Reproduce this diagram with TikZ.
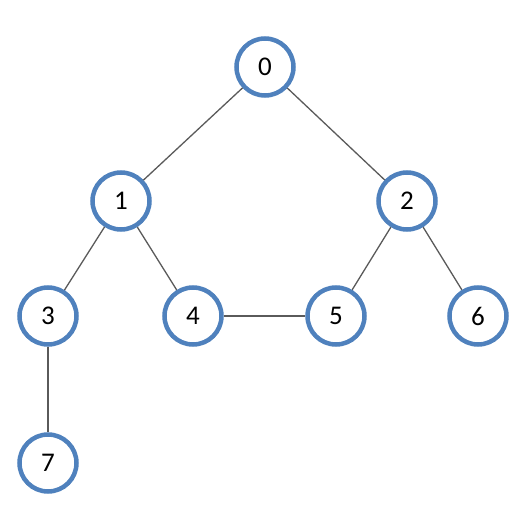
\documentclass[tikz,border=0pt]{standalone}
\usepackage{fontspec}
\setmainfont{Carlito}
\usepackage{xcolor}
\usepackage{tikz}
\definecolor{treeblue}{HTML}{4F81BD}
\definecolor{treeedge}{HTML}{5A5A5A}
\tikzset{%
  treenode/.style={%
    circle,
    draw=treeblue,
    line width=4.5pt,
    fill=white,
    minimum size=57pt,
    inner sep=0pt,
    font=\fontsize{27}{30}\selectfont
  },
  treelink/.style={draw=treeedge,line width=1.3pt}
}
\begin{document}
\begin{tikzpicture}[x=1pt,y=-1pt]
    \useasboundingbox (0,0) rectangle (531,516);
    \node[treenode] (n0) at (265,67) {0};
    \node[treenode] (n1) at (121,201) {1};
    \node[treenode] (n2) at (407,201) {2};
    \node[treenode] (n3) at (48,316) {3};
    \node[treenode] (n4) at (193,316) {4};
    \node[treenode] (n5) at (336,316) {5};
    \node[treenode] (n6) at (478,316) {6};
    \node[treenode] (n7) at (48,463) {7};

    \draw[treelink] (n0) -- (n1);
    \draw[treelink] (n0) -- (n2);
    \draw[treelink] (n1) -- (n3);
    \draw[treelink] (n1) -- (n4);
    \draw[treelink] (n2) -- (n5);
    \draw[treelink] (n2) -- (n6);
    \draw[treelink] (n4) -- (n5);
    \draw[treelink] (n3) -- (n7);
  \end{tikzpicture}
\end{document}
